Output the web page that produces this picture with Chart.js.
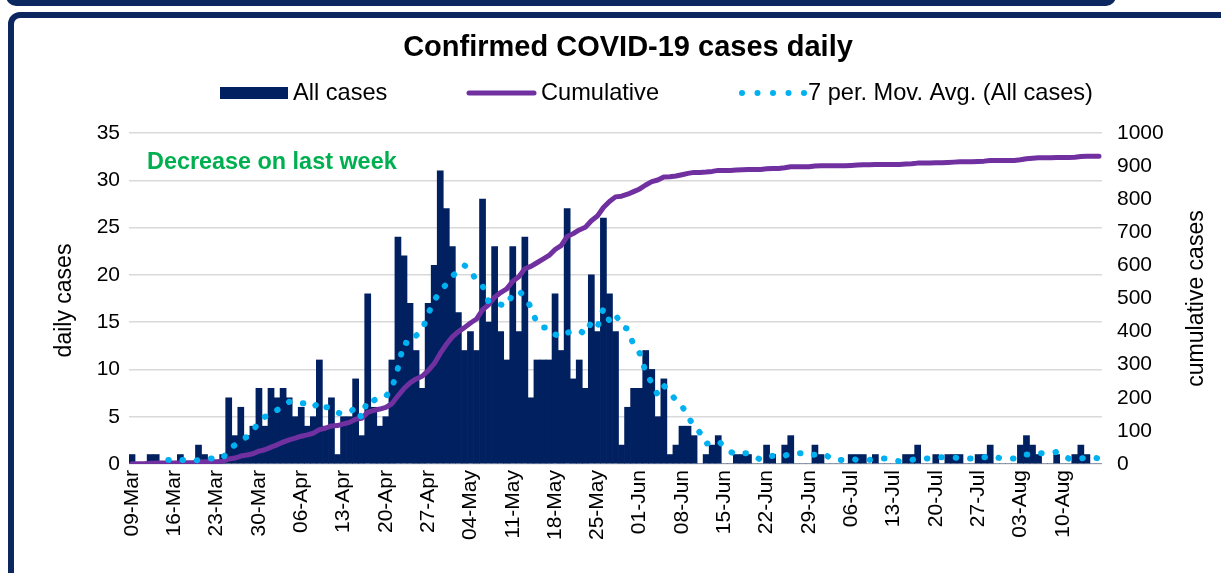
<!DOCTYPE html>
<html>
<head>
<meta charset="utf-8">
<script src="https://cdn.jsdelivr.net/npm/chart.js@4.4.1/dist/chart.umd.min.js"></script>
<style>
html,body{margin:0;padding:0;background:#fff;overflow:hidden;}
#wrap{position:relative;width:1221px;height:573px;overflow:hidden;background:#fff;}
.frameTop{position:absolute;left:6px;top:-24px;width:1098px;height:18px;border:6px solid #0c2660;border-radius:10px;}
.frameMain{position:absolute;left:8px;top:12px;width:1400px;height:800px;border:6px solid #0c2660;border-radius:12px;}
#c{position:absolute;left:0;top:0;}
</style>
</head>
<body>
<div id="wrap">
  <div class="frameTop"></div>
  <div class="frameMain"></div>
  <canvas id="c" width="1221" height="573"></canvas>
</div>
<script>
const chartTitle = 'Confirmed COVID-19 cases daily';
const note = 'Decrease on last week';
const leftAxisTitle = 'daily cases';
const rightAxisTitle = 'cumulative cases';
const seriesNames = ['All cases', 'Cumulative', '7 per. Mov. Avg. (All cases)'];

const categories = [
'09-Mar','10-Mar','11-Mar','12-Mar','13-Mar','14-Mar','15-Mar','16-Mar','17-Mar','18-Mar','19-Mar','20-Mar','21-Mar','22-Mar','23-Mar','24-Mar','25-Mar','26-Mar','27-Mar','28-Mar','29-Mar','30-Mar','31-Mar',
'01-Apr','02-Apr','03-Apr','04-Apr','05-Apr','06-Apr','07-Apr','08-Apr','09-Apr','10-Apr','11-Apr','12-Apr','13-Apr','14-Apr','15-Apr','16-Apr','17-Apr','18-Apr','19-Apr','20-Apr','21-Apr','22-Apr','23-Apr','24-Apr','25-Apr','26-Apr','27-Apr','28-Apr','29-Apr','30-Apr',
'01-May','02-May','03-May','04-May','05-May','06-May','07-May','08-May','09-May','10-May','11-May','12-May','13-May','14-May','15-May','16-May','17-May','18-May','19-May','20-May','21-May','22-May','23-May','24-May','25-May','26-May','27-May','28-May','29-May','30-May','31-May',
'01-Jun','02-Jun','03-Jun','04-Jun','05-Jun','06-Jun','07-Jun','08-Jun','09-Jun','10-Jun','11-Jun','12-Jun','13-Jun','14-Jun','15-Jun','16-Jun','17-Jun','18-Jun','19-Jun','20-Jun','21-Jun','22-Jun','23-Jun','24-Jun','25-Jun','26-Jun','27-Jun','28-Jun','29-Jun','30-Jun',
'01-Jul','02-Jul','03-Jul','04-Jul','05-Jul','06-Jul','07-Jul','08-Jul','09-Jul','10-Jul','11-Jul','12-Jul','13-Jul','14-Jul','15-Jul','16-Jul','17-Jul','18-Jul','19-Jul','20-Jul','21-Jul','22-Jul','23-Jul','24-Jul','25-Jul','26-Jul','27-Jul','28-Jul','29-Jul','30-Jul','31-Jul',
'01-Aug','02-Aug','03-Aug','04-Aug','05-Aug','06-Aug','07-Aug','08-Aug','09-Aug','10-Aug','11-Aug','12-Aug','13-Aug','14-Aug','15-Aug','16-Aug'
];

const allCases = [
1,0,0,1,1,0,0,0,1,0,
0,2,1,0,0,1,7,3,6,3,
4,8,4,8,7,8,7,5,6,4,
5,11,4,7,1,5,5,9,3,18,
6,4,5,11,24,22,17,12,8,17,
21,31,27,23,16,12,14,12,28,15,
23,14,11,23,14,24,7,11,11,11,
18,12,27,9,11,8,20,14,26,18,
14,2,6,8,8,12,10,5,9,1,
2,4,4,3,0,1,2,3,0,0,
1,1,1,0,0,2,1,0,2,3,
0,0,0,2,1,0,0,0,0,1,
1,1,0,1,0,0,0,0,1,1,
2,0,0,1,0,1,1,1,0,0,
1,1,2,0,0,0,0,2,3,2,
1,0,0,1,0,0,1,2,1,0,
0
];

const cumulative = [
1,1,1,2,3,3,3,3,4,4,
4,6,7,7,7,8,15,18,24,27,
31,39,43,51,58,66,73,78,84,88,
93,104,108,115,116,121,126,135,138,156,
162,166,171,182,206,228,245,257,265,282,
303,334,361,384,400,412,426,438,466,481,
504,518,529,552,566,590,597,608,619,630,
648,660,687,696,707,715,735,749,775,793,
807,809,815,823,831,843,853,858,867,868,
870,874,878,881,881,882,884,887,887,887,
888,889,890,890,890,892,893,893,895,898,
898,898,898,900,901,901,901,901,901,902,
903,904,904,905,905,905,905,905,906,907,
909,909,909,910,910,911,912,913,913,913,
914,915,917,917,917,917,917,919,922,924,
925,925,925,926,926,926,927,929,930,930,
930
];

const movAvg = [
null,null,null,null,null,null,0.43,0.29,0.43,0.43,
0.29,0.43,0.57,0.57,0.57,0.57,1.57,2.0,2.57,2.86,
3.43,4.57,5.0,5.14,5.71,6.0,6.57,6.71,6.43,6.43,
6.0,6.57,6.0,6.0,5.43,5.29,5.43,6.0,4.86,6.86,
6.71,7.14,7.14,8.0,10.14,12.86,12.71,13.57,14.14,15.86,
17.29,18.29,19.0,19.86,20.43,21.0,20.57,19.29,18.86,17.14,
17.14,16.86,16.71,18.0,18.29,17.71,16.57,14.86,14.43,14.43,
13.71,13.43,13.86,14.14,14.14,13.71,15.0,14.43,16.43,15.14,
15.86,14.57,14.29,12.57,11.71,9.71,8.57,7.29,8.29,7.57,
6.71,6.14,5.0,4.0,3.29,2.14,2.29,2.43,1.86,1.29,
1.0,1.14,1.14,0.86,0.43,0.71,0.86,0.71,0.86,1.14,
1.14,1.14,0.86,1.0,1.14,0.86,0.43,0.43,0.43,0.57,
0.43,0.43,0.43,0.57,0.57,0.57,0.43,0.29,0.29,0.43,
0.57,0.57,0.57,0.71,0.71,0.71,0.71,0.57,0.57,0.57,
0.57,0.71,0.86,0.71,0.57,0.57,0.57,0.71,1.0,1.0,
1.14,1.14,1.14,1.29,1.0,0.57,0.43,0.57,0.71,0.71,
0.57
];

const FONT = '"Liberation Sans", Arial, Helvetica, sans-serif';
const NAVY = '#002060', PURPLE = '#7030A0', CYAN = '#00B0F0', GREEN = '#00B050';

const decor = {
  id: 'decor',
  afterDraw(chart) {
    const ctx = chart.ctx, a = chart.chartArea;
    ctx.save();
    ctx.fillStyle = '#000';
    ctx.textBaseline = 'middle';
    // title
    ctx.font = 'bold 29px ' + FONT;
    ctx.textAlign = 'center';
    ctx.fillText(chartTitle, 628, 48);
    // legend
    ctx.font = '23.6px ' + FONT;
    ctx.textAlign = 'left';
    const ly = 93;
    ctx.fillStyle = NAVY;
    ctx.fillRect(220, ly - 6, 68, 12);
    ctx.fillStyle = '#000';
    ctx.fillText(seriesNames[0], 293, ly);
    ctx.strokeStyle = PURPLE; ctx.lineWidth = 5; ctx.lineCap = 'round';
    ctx.beginPath(); ctx.moveTo(469, ly); ctx.lineTo(534, ly); ctx.stroke();
    ctx.fillText(seriesNames[1], 541, ly);
    ctx.fillStyle = CYAN;
    for (let k = 0; k < 5; k++) { ctx.beginPath(); ctx.arc(742 + k * 15.5, ly, 3, 0, Math.PI * 2); ctx.fill(); }
    ctx.fillStyle = '#000';
    ctx.fillText(seriesNames[2], 808, ly);
    // note
    ctx.font = 'bold 23.4px ' + FONT;
    ctx.fillStyle = GREEN;
    ctx.fillText(note, 147, 163);
    // axis titles
    ctx.fillStyle = '#000';
    ctx.font = '23px ' + FONT;
    ctx.textAlign = 'center';
    const cy = (a.top + a.bottom) / 2;
    ctx.save(); ctx.translate(65, cy + 2); ctx.rotate(-Math.PI / 2); ctx.fillText(leftAxisTitle, 0, 0); ctx.restore();
    ctx.save(); ctx.translate(1197, cy); ctx.rotate(-Math.PI / 2); ctx.fillText(rightAxisTitle, 0, 0); ctx.restore();
    ctx.restore();
  }
};

new Chart(document.getElementById('c'), {
  data: {
    labels: categories,
    datasets: [
      { type: 'line', label: seriesNames[2], data: movAvg, yAxisID: 'y', borderColor: CYAN, borderWidth: 6,
        borderDash: [0.5, 14], borderCapStyle: 'round', pointRadius: 0, fill: false, tension: 0, order: 0 },
      { type: 'line', label: seriesNames[1], data: cumulative, yAxisID: 'y1', borderColor: PURPLE, borderWidth: 5,
        borderCapStyle: 'round', borderJoinStyle: 'round', pointRadius: 0, fill: false, tension: 0, order: 1 },
      { type: 'bar', label: seriesNames[0], data: allCases, yAxisID: 'y', backgroundColor: NAVY, borderWidth: 0,
        barPercentage: 1, categoryPercentage: 1, order: 2 }
    ]
  },
  options: {
    responsive: false,
    animation: false,
    layout: { padding: { left: 0, right: 0, top: 133, bottom: 0 } },
    plugins: { legend: { display: false }, title: { display: false }, tooltip: { enabled: false } },
    scales: {
      x: {
        type: 'category', offset: true,
        grid: { display: false, drawTicks: false }, border: { display: false },
        ticks: { autoSkip: false, maxRotation: 90, minRotation: 90, padding: 6, color: '#000',
          font: { family: FONT, size: 21 },
          callback: function (v, i) { return i % 7 === 0 ? this.getLabelForValue(v) : ''; } },
        afterFit(s) { s.height = 109; }
      },
      y: {
        position: 'left', min: 0, max: 35,
        ticks: { stepSize: 5, padding: 9, color: '#000', font: { family: FONT, size: 21 } },
        grid: { color: '#d9d9d9', lineWidth: 1.5, drawTicks: false }, border: { display: false },
        afterFit(s) { s.width = 129; }
      },
      y1: {
        position: 'right', min: 0, max: 1000,
        ticks: { stepSize: 100, padding: 15, color: '#000', font: { family: FONT, size: 21 },
          callback: function (v) { return String(v); } },
        grid: { display: false, drawTicks: false }, border: { display: false },
        afterFit(s) { s.width = 119; }
      }
    }
  },
  plugins: [decor]
});
</script>
</body>
</html>
